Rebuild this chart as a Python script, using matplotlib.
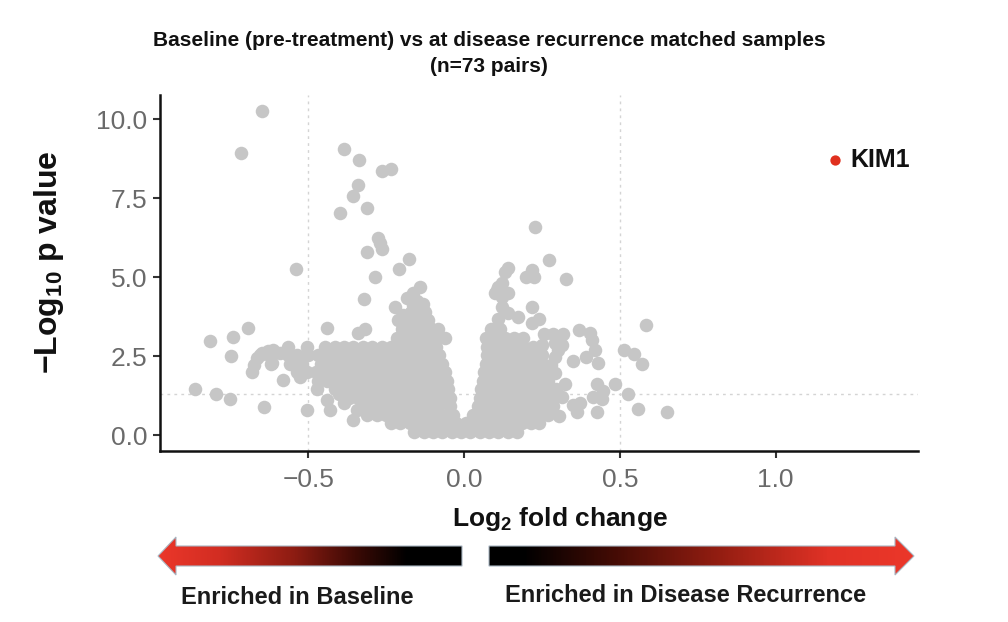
import numpy as np
import matplotlib
matplotlib.use('Agg')
from matplotlib import pyplot as plt
from matplotlib.patches import Polygon
from matplotlib.colors import LinearSegmentedColormap

plt.rcParams['font.family'] = ['Liberation Sans', 'DejaVu Sans']
plt.rcParams['mathtext.fontset'] = 'custom'
plt.rcParams['mathtext.rm'] = 'Liberation Sans:bold'
plt.rcParams['mathtext.default'] = 'rm'

##### data (log2 fold change, -log10 p)
# dense cloud around zero, read row by row: (-log10 p, [log2 fc, ...])
cloud_rows = [
    (0.10, [-0.16, -0.13, -0.10, -0.07, -0.04, -0.01, 0.02, 0.05, 0.08, 0.11, 0.14, 0.17]),
    (0.37, [-0.235, -0.205, -0.175, -0.145, -0.115, -0.085, -0.055, -0.025, 0.005, 0.035, 0.065,
            0.095, 0.125, 0.155, 0.185, 0.215, 0.24]),
    (0.64, [-0.31, -0.28, -0.25, -0.22, -0.19, -0.16, -0.13, -0.10, -0.07, -0.035, 0.03, 0.06,
            0.09, 0.12, 0.15, 0.18, 0.21, 0.24, 0.27]),
    (0.91, [-0.325, -0.295, -0.265, -0.235, -0.205, -0.175, -0.145, -0.115, -0.085, -0.045, 0.045,
            0.075, 0.105, 0.135, 0.165, 0.195, 0.225, 0.255, 0.285]),
    (1.18, [-0.37, -0.34, -0.31, -0.28, -0.25, -0.22, -0.19, -0.16, -0.13, -0.10, -0.07, -0.045,
            0.05, 0.08, 0.11, 0.14, 0.17, 0.20, 0.23, 0.26, 0.29]),
    (1.45, [-0.415, -0.385, -0.355, -0.325, -0.295, -0.265, -0.235, -0.205, -0.175, -0.145, -0.115,
            -0.085, -0.05, 0.055, 0.085, 0.115, 0.145, 0.175, 0.205, 0.235, 0.265, 0.295]),
    (1.72, [-0.47, -0.44, -0.41, -0.38, -0.35, -0.32, -0.29, -0.26, -0.23, -0.20, -0.17, -0.14,
            -0.11, -0.08, -0.055, 0.06, 0.09, 0.12, 0.15, 0.18, 0.21, 0.24, 0.27]),
    (1.99, [-0.535, -0.505, -0.475, -0.445, -0.415, -0.385, -0.355, -0.325, -0.295, -0.265, -0.235,
            -0.205, -0.175, -0.145, -0.115, -0.085, -0.06, 0.065, 0.095, 0.125, 0.155, 0.185,
            0.215, 0.245, 0.275]),
    (2.26, [-0.62, -0.56, -0.52, -0.46, -0.43, -0.40, -0.37, -0.34, -0.31, -0.28, -0.25, -0.22,
            -0.19, -0.16, -0.13, -0.10, -0.07, 0.07, 0.10, 0.13, 0.16, 0.19, 0.22, 0.25]),
    (2.53, [-0.655, -0.625, -0.565, -0.535, -0.50, -0.47, -0.44, -0.41, -0.38, -0.35, -0.32, -0.29,
            -0.26, -0.23, -0.20, -0.17, -0.14, -0.11, -0.08, 0.075, 0.105, 0.135, 0.165, 0.195,
            0.225, 0.25]),
    (2.80, [-0.565, -0.505, -0.445, -0.415, -0.385, -0.355, -0.325, -0.295, -0.265, -0.235, -0.205,
            -0.175, -0.145, -0.115, -0.09, 0.075, 0.10, 0.13, 0.16, 0.19, 0.22]),
    (3.07, [-0.215, -0.185, -0.155, -0.125, -0.095, 0.07, 0.10, 0.13, 0.16, 0.19]),
    (3.34, [-0.20, -0.17, -0.14, -0.11, 0.085, 0.115]),
    (3.60, [-0.19, -0.16, -0.13]),
]

# scattered points outside the cloud
left_x = [-0.648, -0.717, -0.387, -0.337, -0.262, -0.234, -0.339, -0.355, -0.311, -0.397,
          -0.277, -0.270, -0.264, -0.311, -0.177, -0.208, -0.286, -0.539, -0.322, -0.141,
          -0.163, -0.184, -0.152, -0.131, -0.221, -0.125, -0.211, -0.195, -0.160, -0.165,
          -0.140, -0.170, -0.135, -0.115, -0.110, -0.085, -0.061, -0.441, -0.318, -0.342,
          -0.692, -0.815, -0.743, -0.749, -0.864, -0.796, -0.751, -0.643, -0.504, -0.682,
          -0.675, -0.666, -0.650, -0.630, -0.612, -0.617, -0.591, -0.580, -0.526, -0.473,
          -0.430, -0.441, -0.387, -0.356, -0.344, -0.400]
left_y = [10.25, 8.91, 9.04, 8.70, 8.35, 8.41, 7.91, 7.56, 7.17, 7.03,
          6.24, 6.07, 5.89, 5.78, 5.57, 5.25, 5.01, 5.24, 4.30, 4.67,
          4.48, 4.34, 4.24, 4.15, 4.05, 3.90, 3.64, 3.80, 3.95, 4.10,
          4.00, 3.90, 3.75, 3.65, 3.40, 3.35, 3.07, 3.38, 3.34, 3.22,
          3.38, 2.98, 3.09, 2.50, 1.46, 1.31, 1.13, 0.90, 0.78, 2.00,
          2.20, 2.43, 2.58, 2.67, 2.69, 2.27, 2.58, 1.74, 1.84, 1.45,
          0.79, 1.11, 1.00, 0.47, 0.79, 1.30]

right_x = [0.228, 0.273, 0.142, 0.132, 0.219, 0.200, 0.223, 0.327, 0.110, 0.121,
           0.100, 0.142, 0.121, 0.105, 0.121, 0.217, 0.142, 0.174, 0.239, 0.110,
           0.217, 0.255, 0.287, 0.319, 0.369, 0.405, 0.410, 0.421, 0.392, 0.431,
           0.351, 0.292, 0.314, 0.292, 0.303, 0.584, 0.514, 0.546, 0.572, 0.483,
           0.526, 0.557, 0.650, 0.426, 0.447, 0.415, 0.442, 0.426, 0.351, 0.372,
           0.362, 0.324, 0.314, 0.292, 0.305, 0.280, 0.250]
right_y = [6.58, 5.55, 5.30, 5.17, 5.23, 5.01, 5.01, 4.95, 4.69, 4.80,
           4.48, 4.48, 4.38, 4.59, 4.06, 4.04, 3.85, 3.72, 3.66, 3.66,
           3.53, 3.20, 3.20, 3.20, 3.32, 3.22, 3.01, 2.69, 2.46, 2.29,
           2.33, 2.90, 2.85, 2.48, 2.70, 3.47, 2.69, 2.56, 2.25, 1.62,
           1.29, 0.83, 0.72, 1.63, 1.40, 1.21, 1.13, 0.74, 0.95, 1.00,
           0.72, 1.63, 1.21, 1.95, 0.60, 2.20, 2.85]

kim1_x, kim1_y = 1.19, 8.70

cloud_x = [x for y, xs in cloud_rows for x in xs]
cloud_y = [y for y, xs in cloud_rows for x in xs]
all_x = cloud_x + left_x + right_x
all_y = cloud_y + left_y + right_y

##### figure
W, H = 1008, 622
fig = plt.figure(figsize=(W / 100, H / 100), dpi=100)
ax = fig.add_axes([160 / W, 1 - 451 / H, (918 - 160) / W, (451 - 95) / H])

ax.axvline(-0.5, color='#d4d4d4', ls=(0, (2, 3)), lw=1, zorder=0)
ax.axvline(0.5, color='#d4d4d4', ls=(0, (2, 3)), lw=1, zorder=0)
ax.axhline(-np.log10(0.05), color='#d4d4d4', ls=(0, (2, 3)), lw=1, zorder=0)

ax.scatter(all_x, all_y, s=95, c='#c6c6c6', linewidths=0, zorder=2)
ax.scatter([kim1_x], [kim1_y], s=55, c='#e0301e', linewidths=0, zorder=3)
ax.annotate('KIM1', (kim1_x, kim1_y), xytext=(11, 0), textcoords='offset points',
            ha='left', va='center', fontsize=18, fontweight='bold', color='#111111')

ax.set_xlim(-0.976, 1.457)
ax.set_ylim(-0.506, 10.76)
ax.set_xticks([-0.5, 0.0, 0.5, 1.0])
ax.set_xticklabels(['\u22120.5', '0.0', '0.5', '1.0'])
ax.set_yticks([0.0, 2.5, 5.0, 7.5, 10.0])
ax.set_yticklabels(['0.0', '2.5', '5.0', '7.5', '10.0'])
for s in ['top', 'right']:
    ax.spines[s].set_visible(False)
for s in ['left', 'bottom']:
    ax.spines[s].set_linewidth(1.8)
    ax.spines[s].set_color('#111111')
ax.tick_params(direction='out', length=5, width=1.5, color='#333333',
               labelsize=19, labelcolor='#6a6a6a')
ax.tick_params(axis='x', pad=7)
ax.tick_params(axis='y', pad=4)

fig.text(49 / W, 1 - 262 / H, '\u2212Log$_{10}$ p value', rotation=90, ha='center', va='center',
         fontsize=23, fontweight='bold', color='#111111')
fig.text(560 / W, 1 - 519 / H, 'Log$_{2}$ fold change', ha='center', va='center',
         fontsize=19, fontweight='bold', color='#111111')

fig.text(489 / W, 1 - 40 / H, 'Baseline (pre-treatment) vs at disease recurrence matched samples',
         ha='center', va='center', fontsize=15, fontweight='bold', color='#111111')
fig.text(489 / W, 1 - 66 / H, '(n=73 pairs)', ha='center', va='center',
         fontsize=15, fontweight='bold', color='#111111')

##### gradient arrows under the axis (pixel coordinates)
ov = fig.add_axes([0, 0, 1, 1])
ov.set_axis_off()

left_cmap = LinearSegmentedColormap.from_list('l', [
    (0.0, '#eb372a'), (0.2, '#d22d22'), (0.45, '#8c1c12'), (0.65, '#3c0a05'),
    (0.82, '#000000'), (1.0, '#000000')])
right_cmap = LinearSegmentedColormap.from_list('r', [
    (0.0, '#000000'), (0.08, '#000000'), (0.3, '#460c05'), (0.55, '#961e12'),
    (0.8, '#e13226'), (1.0, '#eb372a')])

grad = np.linspace(0, 1, 400)[None, :]
arrows = [
    ([(158, 556), (176, 537), (176, 546), (462, 546), (462, 566), (176, 566), (176, 575)],
     left_cmap, 158, 462),
    ([(489, 546), (895, 546), (895, 537), (914, 556), (895, 575), (895, 566), (489, 566)],
     right_cmap, 489, 914),
]
for pts, cmap, x0, x1 in arrows:
    poly = Polygon(pts, closed=True, facecolor='none', edgecolor='#a9b6c2', lw=0.8, zorder=3)
    ov.add_patch(poly)
    im = ov.imshow(grad, cmap=cmap, extent=(x0, x1, 576, 536), aspect='auto', zorder=2)
    im.set_clip_path(poly)
ov.set_xlim(0, W)
ov.set_ylim(H, 0)

ov.text(297, 598, 'Enriched in Baseline', ha='center', va='center',
        fontsize=17, fontweight='bold', color='#1a1a1a')
ov.text(686, 596, 'Enriched in Disease Recurrence', ha='center', va='center',
        fontsize=17, fontweight='bold', color='#1a1a1a')

plt.savefig('out.png', dpi=100)
